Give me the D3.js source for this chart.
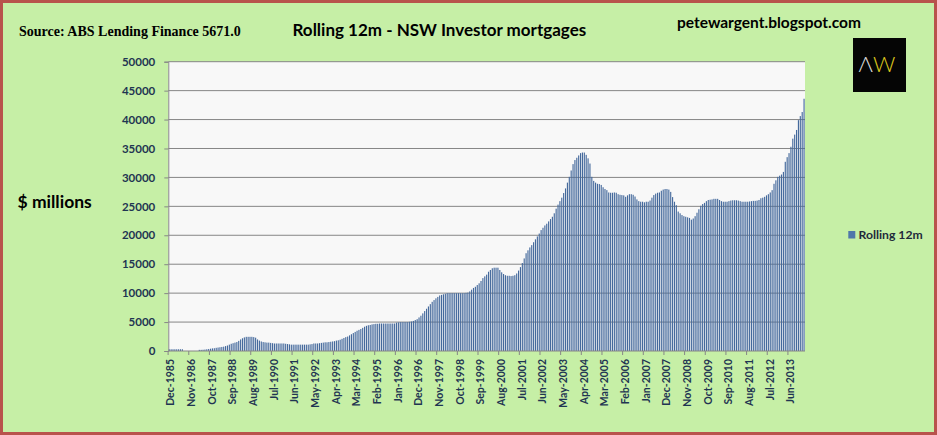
<!DOCTYPE html>
<meta charset="utf-8">
<html>

<head>
    <title>Rolling 12m - NSW Investor mortgages</title>
    <script src="https://d3js.org/d3.v7.min.js"></script>
    <style>
        body {
            margin: 0;
            background: #c6efa6;
        }

        svg {
            display: block;
        }

        .grid line {
            stroke: #868686;
            stroke-width: 1;
        }

        .axis text {
            font-family: 'Lato', sans-serif;
            font-weight: bold;
            fill: #1f3552;
        }
    </style>
</head>

<body>
    <svg width="937" height="435"></svg>

    <script>
        // Monthly rolling 12m totals, $ millions, Dec-1985 to Feb-2014
        const firstMonth = "1985-12";
        const rolling12m = [
            300,                                                                           // 1985 Dec
            300, 300, 300, 300, 300, 300, 300, 0, 0, 0, 0, 0,                              // 1986
            0, 0, 0, 200, 200, 220, 250, 300, 350, 400, 450, 480,                          // 1987
            550, 600, 650, 700, 750, 850, 950, 1100, 1250, 1350, 1450, 1550,               // 1988
            1750, 2000, 2200, 2350, 2450, 2450, 2450, 2450, 2400, 2300, 2000, 1800,        // 1989
            1650, 1550, 1500, 1450, 1450, 1400, 1350, 1300, 1300, 1300, 1300, 1300,        // 1990
            1300, 1250, 1200, 1150, 1100, 1100, 1100, 1100, 1100, 1100, 1100, 1100,        // 1991
            1100, 1100, 1150, 1200, 1300, 1300, 1300, 1350, 1400, 1450, 1500, 1500,        // 1992
            1550, 1600, 1650, 1700, 1800, 1850, 1950, 2100, 2250, 2400, 2500, 2700,        // 1993
            2900, 3100, 3300, 3500, 3650, 3800, 4000, 4200, 4350, 4450, 4500, 4600,        // 1994
            4650, 4700, 4700, 4750, 4750, 4750, 4750, 4750, 4750, 4750, 4750, 4750,        // 1995
            4900, 4950, 5000, 5000, 5000, 5000, 5000, 5050, 5100, 5200, 5350, 5500,        // 1996
            5800, 6100, 6500, 6900, 7300, 7700, 8100, 8500, 8800, 9100, 9350, 9600,        // 1997
            9700, 9800, 9900, 10000, 10000, 10000, 10000, 10000, 10000, 10000, 10000, 10000, // 1998
            10000, 10050, 10100, 10300, 10600, 10900, 11100, 11400, 11700, 12100, 12600, 12900, // 1999
            13200, 13700, 14000, 14300, 14400, 14400, 14400, 14000, 13600, 13300, 13100, 13000, // 2000
            13000, 12950, 13000, 13100, 13400, 13900, 14500, 15200, 16000, 16900, 17400, 17900, // 2001
            18300, 18800, 19300, 19800, 20300, 20900, 21300, 21700, 22000, 22400, 22800, 23200, // 2002
            23800, 24600, 25300, 25900, 26500, 27300, 28100, 29100, 30100, 31200, 32300, 33000, // 2003
            33400, 33800, 34200, 34300, 34300, 33900, 33300, 32400, 30100, 29400, 29100, 28900, // 2004
            28850, 28700, 28300, 28000, 27800, 27400, 27350, 27350, 27400, 27350, 27100, 27000, // 2005
            26950, 26900, 26650, 26900, 27100, 27100, 27000, 26700, 26200, 25900, 25800, 25800, // 2006
            25700, 25800, 25800, 26000, 26500, 26950, 27200, 27350, 27400, 27700, 27900, 28000, // 2007
            28000, 27900, 27500, 26600, 25800, 25200, 24100, 23800, 23500, 23300, 23200, 23100, // 2008
            23000, 22700, 22900, 23300, 23900, 24500, 25100, 25400, 25600, 25900, 26100, 26150, // 2009
            26200, 26300, 26300, 26300, 26100, 25900, 25800, 25800, 25800, 25900, 26000, 26050, // 2010
            26050, 26050, 26000, 25900, 25800, 25800, 25800, 25800, 25850, 25900, 25950, 25950, // 2011
            26000, 26100, 26400, 26500, 26650, 26900, 27100, 27400, 27800, 28900, 29500, 30100, // 2012
            30300, 30500, 30950, 32700, 33500, 34200, 35300, 36700, 37400, 38200, 39900, 40600, // 2013
            41300, 43600                                                                    // 2014
        ];

        const yTicks = [0, 5000, 10000, 15000, 20000, 25000, 30000, 35000, 40000, 45000, 50000];
        const xTickLabels = [
            "Dec-1985", "Nov-1986", "Oct-1987", "Sep-1988", "Aug-1989", "Jul-1990", "Jun-1991",
            "May-1992", "Apr-1993", "Mar-1994", "Feb-1995", "Jan-1996", "Dec-1996", "Nov-1997",
            "Oct-1998", "Sep-1999", "Aug-2000", "Jul-2001", "Jun-2002", "May-2003", "Apr-2004",
            "Mar-2005", "Feb-2006", "Jan-2007", "Dec-2007", "Nov-2008", "Oct-2009", "Sep-2010",
            "Aug-2011", "Jul-2012", "Jun-2013"
        ];
        const tickEvery = 11;

        // category labels, one per month
        const fmt = d3.timeFormat("%b-%Y");
        const start = d3.timeParse("%Y-%m")(firstMonth);
        const months = rolling12m.map((v, i) => fmt(d3.timeMonth.offset(start, i)));
        const data = months.map((m, i) => ({ month: m, value: rolling12m[i] }));

        const svg = d3.select("svg");
        const width = +svg.attr("width");
        const height = +svg.attr("height");

        const plot = { left: 168.3, right: 805, top: 61.7, bottom: 351 };

        const xScale = d3.scaleBand().domain(months).range([plot.left, plot.right]).paddingInner(0.4).paddingOuter(0.2);
        const yScale = d3.scaleLinear().domain([0, 50000]).range([plot.bottom, plot.top]);

        // chart area + border
        svg.append("rect")
            .attr("x", 1.5).attr("y", 1.5)
            .attr("width", width - 3).attr("height", height - 3)
            .attr("fill", "#c6efa6")
            .attr("stroke", "#b8534c")
            .attr("stroke-width", 3);

        svg.append("rect")
            .attr("x", plot.left).attr("y", plot.top)
            .attr("width", plot.right - plot.left).attr("height", plot.bottom - plot.top)
            .attr("fill", "#f8f8f8");

        // gridlines
        svg.append("g")
            .attr("class", "grid")
            .selectAll("line")
            .data(yTicks.slice(1))
            .join("line")
            .attr("x1", plot.left).attr("x2", plot.right)
            .attr("y1", d => yScale(d)).attr("y2", d => yScale(d));

        // bars
        svg.append("g")
            .selectAll("rect")
            .data(data)
            .join("rect")
            .attr("x", d => xScale(d.month))
            .attr("width", xScale.bandwidth())
            .attr("y", d => yScale(d.value))
            .attr("height", d => yScale(0) - yScale(d.value))
            .attr("fill", "#44699c");

        // y axis
        const yAxis = d3.axisLeft(yScale).tickValues(yTicks).tickSize(4).tickPadding(9).tickFormat(d3.format("d"));
        const gy = svg.append("g")
            .attr("class", "axis")
            .attr("transform", `translate(${plot.left},0)`)
            .call(yAxis);
        gy.select(".domain").attr("stroke", "#868686");
        gy.selectAll(".tick line").attr("stroke", "#868686");
        gy.selectAll("text").attr("font-size", 11.5);

        // x axis: ticks between categories every 11 months, labels on category
        const step = xScale.step();
        const tickIdx = d3.range(0, months.length, tickEvery);
        const gx = svg.append("g").attr("class", "axis");
        gx.append("line")
            .attr("x1", plot.left).attr("x2", plot.right)
            .attr("y1", plot.bottom).attr("y2", plot.bottom)
            .attr("stroke", "#868686");
        gx.selectAll(".xtick")
            .data(tickIdx)
            .join("line")
            .attr("class", "xtick")
            .attr("x1", i => xScale(months[i]) - step * 0.3)
            .attr("x2", i => xScale(months[i]) - step * 0.3)
            .attr("y1", plot.bottom).attr("y2", plot.bottom + 4)
            .attr("stroke", "#868686");
        gx.selectAll(".xlabel")
            .data(xTickLabels)
            .join("text")
            .attr("class", "xlabel")
            .attr("font-size", 10.5)
            .attr("text-anchor", "end")
            .attr("transform", (d, k) => {
                const cx = xScale(months[k * tickEvery]) + xScale.bandwidth() / 2 + 1.5;
                return `translate(${cx},${plot.bottom + 8}) rotate(-90)`;
            })
            .attr("dy", "0.35em")
            .text(d => d);

        // texts
        svg.append("text")
            .attr("x", 19).attr("y", 36)
            .attr("font-family", "'Liberation Serif', serif")
            .attr("font-weight", "bold")
            .attr("font-size", 14)
            .text("Source: ABS Lending Finance 5671.0");

        svg.append("text")
            .attr("x", 292.5).attr("y", 36)
            .attr("font-family", "Lato, sans-serif")
            .attr("font-weight", "bold")
            .attr("font-size", 17)
            .text("Rolling 12m - NSW Investor mortgages");

        svg.append("text")
            .attr("x", 677).attr("y", 28)
            .attr("font-family", "Lato, sans-serif")
            .attr("font-weight", "bold")
            .attr("font-size", 15.5)
            .text("petewargent.blogspot.com");

        svg.append("text")
            .attr("x", 17.5).attr("y", 208)
            .attr("font-family", "Lato, sans-serif")
            .attr("font-weight", "bold")
            .attr("font-size", 17.5)
            .text("$ millions");

        // logo
        svg.append("rect")
            .attr("x", 853).attr("y", 38)
            .attr("width", 53).attr("height", 54)
            .attr("fill", "#050505");
        const logo = svg.append("text")
            .attr("x", 877).attr("y", 71.5)
            .attr("text-anchor", "middle")
            .attr("font-family", "Lato, sans-serif")
            .attr("font-weight", 300)
            .attr("font-size", 22);
        logo.append("tspan").attr("fill", "#d8d8d8").text("Λ");
        logo.append("tspan").attr("fill", "#d9c41c").text("W");

        // legend
        svg.append("rect")
            .attr("x", 848.3).attr("y", 231)
            .attr("width", 7).attr("height", 7.5)
            .attr("fill", "#4f77aa");
        svg.append("text")
            .attr("x", 858.5).attr("y", 238.5)
            .attr("font-family", "Lato, sans-serif")
            .attr("font-weight", "bold")
            .attr("font-size", 12.2)
            .attr("fill", "#1f2a3a")
            .text("Rolling 12m");
    </script>
</body>

</html>
